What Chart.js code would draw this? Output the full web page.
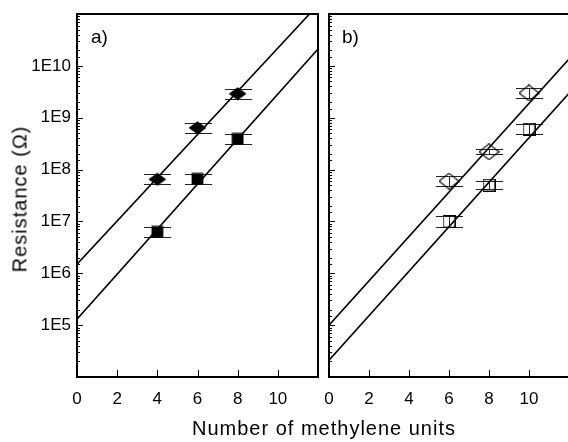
<!DOCTYPE html>
<html>
<head>
<meta charset="utf-8">
<script src="https://cdn.jsdelivr.net/npm/chart.js@4.4.1/dist/chart.umd.min.js"></script>
<style>
  html, body { margin: 0; padding: 0; background: #fff; overflow: hidden; }
  #wrap { position: relative; width: 568px; height: 442px; overflow: hidden; background: #fff; }
  canvas { position: absolute; top: 0; }
  .txt { position: absolute; font-family: "Liberation Sans", Arial, sans-serif; color: #000; white-space: nowrap; }
</style>
</head>
<body>
<div id="wrap">
  <canvas id="ca" width="322" height="442" style="left:0px"></canvas>
  <canvas id="cb" width="247" height="442" style="left:322px"></canvas>
  <div class="txt" id="ytitle" style="font-size:20px; letter-spacing:1px; left:20px; top:199px; transform: translate(-50%,-50%) rotate(-90deg);">Resistance (Ω)</div>
  <div class="txt" style="font-size:20px; letter-spacing:1px; left:324px; top:417px; transform: translateX(-50%);">Number of methylene units</div>
  <div class="txt" style="font-size:19px; left:91px; top:26px;">a)</div>
  <div class="txt" style="font-size:19px; left:342px; top:26px;">b)</div>
</div>
<script>
// ---------- data ----------
const nA = [4, 6, 8];
const rDiamondA     = [6.5e7, 6.4e8, 2.9e9];
const rDiamondALow  = [5.2e7, 5.1e8, 2.3e9];
const rDiamondAHigh = [8.1e7, 8.0e8, 3.6e9];
const rSquareA      = [6.3e6, 6.6e7, 3.9e8];
const rSquareALow   = [5.0e6, 5.3e7, 3.1e8];
const rSquareAHigh  = [7.9e6, 8.3e7, 4.9e8];

const nB = [6, 8, 10];
const rDiamondB     = [6.0e7, 2.2e8, 3.0e9];
const rDiamondBLow  = [4.9e7, 1.96e8, 2.4e9];
const rDiamondBHigh = [7.4e7, 2.46e8, 3.75e9];
const rSquareB      = [1.0e7, 5.0e7, 6.0e8];
const rSquareBLow   = [7.9e6, 4.2e7, 4.8e8];
const rSquareBHigh  = [1.27e7, 5.9e7, 7.5e8];

const fitX = [0, 12];
const fitUpperA = [1.5e6, 1.5e11];
const fitLowerA = [1.3e5, 2.1e10];
const fitUpperB = [1.0e5, 1.35e10];
const fitLowerB = [2.1e4, 2.95e9];

const xTickLabels = ['0', '2', '4', '6', '8', '10'];
const yLabelValues = [1e5, 1e6, 1e7, 1e8, 1e9, 1e10];
const yLabelTexts  = ['1E5', '1E6', '1E7', '1E8', '1E9', '1E10'];

// ---------- marker images ----------
function makeMarker(w, h, shape, filled) {
  const c = document.createElement('canvas');
  c.width = w; c.height = h;
  const g = c.getContext('2d');
  g.beginPath();
  if (shape === 'diamond') {
    g.moveTo(w / 2, 0.6); g.lineTo(w - 0.6, h / 2); g.lineTo(w / 2, h - 0.6); g.lineTo(0.6, h / 2); g.closePath();
  } else {
    g.rect(0.6, 0.6, w - 1.2, h - 1.2);
  }
  if (filled) { g.fillStyle = '#000'; g.fill(); }
  else { g.strokeStyle = '#000'; g.lineWidth = 1.2; g.stroke(); }
  return c;
}
const mDiamondFilled = makeMarker(19, 14, 'diamond', true);
const mSquareFilled  = makeMarker(13, 13, 'square', true);
const mDiamondOpen   = makeMarker(21, 17, 'diamond', false);
const mSquareOpen    = makeMarker(13, 13, 'square', false);

const toPts = (xs, ys) => xs.map((x, i) => ({ x: x, y: ys[i] }));

// ---------- plugins ----------
const errorBars = {
  id: 'errorBars',
  beforeDatasetsDraw(chart) {
    const ctx = chart.ctx, y = chart.scales.y;
    ctx.save();
    ctx.strokeStyle = '#222';
    ctx.lineWidth = 1;
    chart.data.datasets.forEach((ds, di) => {
      if (!ds.errLow) return;
      const meta = chart.getDatasetMeta(di);
      meta.data.forEach((pt, i) => {
        const px = Math.round(pt.x);
        const yl = Math.round(y.getPixelForValue(ds.errLow[i])) + 0.5;
        const yh = Math.round(y.getPixelForValue(ds.errHigh[i])) + 0.5;
        ctx.beginPath();
        ctx.moveTo(px + 0.5, yl); ctx.lineTo(px + 0.5, yh);
        ctx.moveTo(px - 13, yl); ctx.lineTo(px + 14, yl);
        ctx.moveTo(px - 13, yh); ctx.lineTo(px + 14, yh);
        ctx.stroke();
      });
    });
    ctx.restore();
  }
};

const frame = {
  id: 'frame',
  afterDatasetsDraw(chart, args, opts) {
    const ctx = chart.ctx, a = chart.chartArea, x = chart.scales.x, y = chart.scales.y;
    ctx.save();
    ctx.strokeStyle = '#000';
    ctx.lineWidth = 1;
    ctx.beginPath();
    y.ticks.forEach(t => {
      const lg = Math.log10(t.value);
      const major = Math.abs(lg - Math.round(lg)) < 1e-6;
      const p = Math.round(y.getPixelForValue(t.value)) + 0.5;
      const len = major ? 6 : 3;
      ctx.moveTo(a.left, p); ctx.lineTo(a.left + len, p);
    });
    x.ticks.forEach(t => {
      const p = Math.round(x.getPixelForValue(t.value)) + 0.5;
      ctx.moveTo(p, a.bottom); ctx.lineTo(p, a.bottom - 7);
    });
    ctx.stroke();
    ctx.lineWidth = 2;
    ctx.beginPath();
    if (opts.right) {
      ctx.rect(a.left, a.top, a.right - a.left, a.bottom - a.top);
    } else {
      ctx.moveTo(a.right + 5, a.top); ctx.lineTo(a.left, a.top); ctx.lineTo(a.left, a.bottom); ctx.lineTo(a.right + 5, a.bottom);
    }
    ctx.stroke();
    ctx.restore();
  }
};

const FONT = { family: '"Liberation Sans", Arial, sans-serif', size: 17 };

function makeChart(id, datasets, showYLabels, yWidth, padding, frameRight) {
  return new Chart(document.getElementById(id), {
    type: 'scatter',
    data: { datasets: datasets },
    plugins: [errorBars, frame],
    options: {
      responsive: false,
      animation: false,
      devicePixelRatio: 1,
      events: [],
      layout: { padding: padding, autoPadding: false },
      plugins: { legend: { display: false }, tooltip: { enabled: false }, frame: { right: frameRight } },
      scales: {
        x: {
          type: 'linear', min: 0, max: 12,
          grid: { display: true, drawOnChartArea: false, drawTicks: true, tickLength: 12, color: 'rgba(0,0,0,0)' },
          border: { display: false },
          afterFit: s => { s.height = 65; },
          ticks: {
            stepSize: 2, padding: 0, color: '#000', font: FONT, maxRotation: 0, autoSkip: false,
            callback: (v) => { const i = xTickLabels.indexOf(String(v)); return i >= 0 ? xTickLabels[i] : ''; }
          }
        },
        y: {
          type: 'logarithmic', min: 1e4, max: 1e11,
          grid: { display: true, drawOnChartArea: false, drawTicks: true, tickLength: 6, color: 'rgba(0,0,0,0)' },
          border: { display: false },
          afterFit: s => { s.width = yWidth; },
          ticks: {
            display: showYLabels, autoSkip: false, padding: 0, color: '#000', font: FONT,
            callback: (v) => {
              for (let i = 0; i < yLabelValues.length; i++) {
                if (Math.abs(v - yLabelValues[i]) / yLabelValues[i] < 1e-6) return yLabelTexts[i];
              }
              return '';
            }
          }
        }
      }
    }
  });
}

function lineDs(ys) {
  return { type: 'line', data: toPts(fitX, ys), borderColor: '#000', borderWidth: 1.6, pointRadius: 0, pointHitRadius: 0, pointHoverRadius: 0, pointBorderWidth: 0, fill: false, order: 3 };
}
function markerDs(xs, ys, lo, hi, img) {
  return { data: toPts(xs, ys), errLow: lo, errHigh: hi, pointStyle: img, pointRadius: 0.5, pointBorderWidth: 0,
           pointHitRadius: 0, pointHoverRadius: 0, borderWidth: 0, showLine: false, order: 1,
           backgroundColor: '#000', borderColor: '#000' };
}

makeChart('ca', [
  lineDs(fitUpperA),
  lineDs(fitLowerA),
  markerDs(nA, rDiamondA, rDiamondALow, rDiamondAHigh, mDiamondFilled),
  markerDs(nA, rSquareA, rSquareALow, rSquareAHigh, mSquareFilled)
], true, 77, { top: 14, right: 4, left: 0, bottom: 0 }, true);

makeChart('cb', [
  lineDs(fitUpperB),
  lineDs(fitLowerB),
  markerDs(nB, rDiamondB, rDiamondBLow, rDiamondBHigh, mDiamondOpen),
  markerDs(nB, rSquareB, rSquareBLow, rSquareBHigh, mSquareOpen)
], false, 7, { top: 14, right: 0, left: 0, bottom: 0 }, false);
</script>
</body>
</html>
